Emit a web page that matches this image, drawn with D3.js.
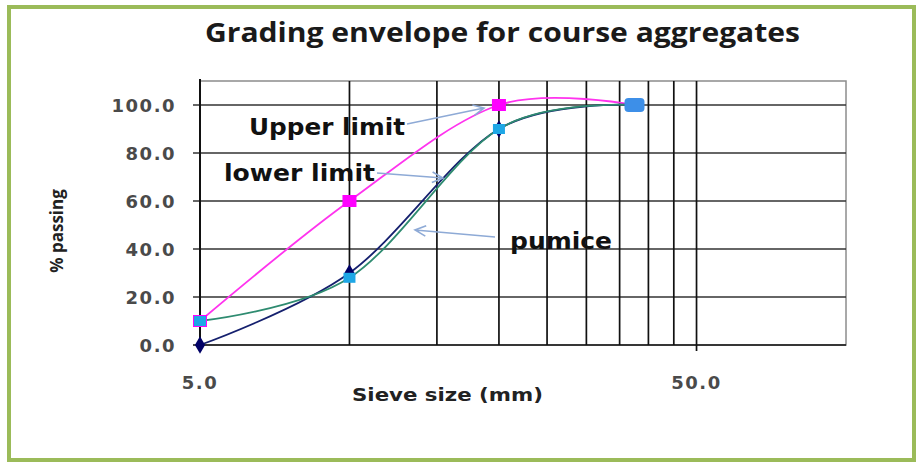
<!DOCTYPE html>
<html>
<head>
<meta charset="utf-8">
<script src="https://cdn.jsdelivr.net/npm/d3@7"></script>
<style>
  body { margin: 0; background: #fff; }
  svg { display: block; }
</style>
</head>
<body>
<div id="showBox"></div>
<script>
// data
const sieveSizes = [5, 10, 20, 37.5]
const upperLimit = [10, 60, 100, 100]
const lowerLimit = [0, 30, 90, 100]
const pumice = [10, 28, 90, 100]

const xGridValues = [10, 15, 20, 25, 30, 35, 40, 45, 50]
const xTickLabels = [5, 50]
const yTickValues = [0, 20, 40, 60, 80, 100]

const width = 918, height = 464
const plotLeft = 200, plotRight = 846, plotTop = 81, plotBottom = 345

const svg = d3.select("#showBox").append("svg")
    .attr("width", width)
    .attr("height", height)

const x = d3.scaleLog().domain([5, 100]).range([plotLeft, plotRight])
const y = d3.scaleLinear().domain([0, 110]).range([plotBottom, plotTop])

// green frame
svg.append("rect")
    .attr("x", 9).attr("y", 7)
    .attr("width", 905).attr("height", 453)
    .attr("fill", "none")
    .attr("stroke", "#9bbb59")
    .attr("stroke-width", 4)

svg.append("text")
    .attr("x", 205).attr("y", 42)
    .attr("font-family", "Open Sans")
    .attr("font-weight", "bold")
    .attr("font-size", 26)
    .attr("textLength", 595)
    .attr("lengthAdjust", "spacingAndGlyphs")
    .attr("fill", "#1a1a1a")
    .text("Grading envelope for course aggregates")

// plot area border (grey)
svg.append("rect")
    .attr("x", plotLeft).attr("y", plotTop)
    .attr("width", plotRight - plotLeft).attr("height", plotBottom - plotTop)
    .attr("fill", "none")
    .attr("stroke", "#8c8c8c")
    .attr("stroke-width", 1.5)

// horizontal grid
svg.append("g")
    .selectAll("line")
    .data(yTickValues)
    .join("line")
    .attr("x1", plotLeft - 7).attr("x2", plotRight)
    .attr("y1", d => y(d)).attr("y2", d => y(d))
    .attr("stroke", d => d === 0 ? "#111" : "#333")
    .attr("stroke-width", 1.7)

// vertical grid
svg.append("g")
    .selectAll("line")
    .data(xGridValues)
    .join("line")
    .attr("x1", d => x(d)).attr("x2", d => x(d))
    .attr("y1", plotTop).attr("y2", d => d === 50 ? plotBottom + 6 : plotBottom)
    .attr("stroke", "#111")
    .attr("stroke-width", 1.7)

// y axis line
svg.append("line")
    .attr("x1", plotLeft).attr("x2", plotLeft)
    .attr("y1", plotTop - 2).attr("y2", plotBottom)
    .attr("stroke", "#111")
    .attr("stroke-width", 2)

const tickFont = g => g
    .attr("font-family", "DejaVu Sans")
    .attr("font-weight", "bold")
    .attr("font-size", 18)
    .attr("letter-spacing", 1.5)
    .attr("fill", "#4a4a4a")

svg.append("g")
    .call(tickFont)
    .attr("text-anchor", "end")
    .selectAll("text")
    .data(yTickValues)
    .join("text")
    .attr("x", 176)
    .attr("y", d => y(d) + 7)
    .text(d => d3.format(".1f")(d))

svg.append("g")
    .call(tickFont)
    .attr("text-anchor", "middle")
    .selectAll("text")
    .data(xTickLabels)
    .join("text")
    .attr("x", d => x(d))
    .attr("y", 389)
    .text(d => d3.format(".1f")(d))

svg.append("text")
    .attr("x", 352).attr("y", 401)
    .attr("font-family", "DejaVu Sans")
    .attr("font-weight", "bold")
    .attr("font-size", 18)
    .attr("textLength", 191)
    .attr("lengthAdjust", "spacingAndGlyphs")
    .attr("fill", "#222")
    .text("Sieve size  (mm)")

svg.append("text")
    .attr("transform", "translate(63,231) rotate(-90)")
    .attr("text-anchor", "middle")
    .attr("font-family", "Open Sans")
    .attr("font-weight", "bold")
    .attr("font-size", 17)
    .attr("fill", "#222")
    .text("% passing")

// series
const line = d3.line()
    .x(d => x(d[0]))
    .y(d => y(d[1]))
    .curve(d3.curveCardinal)

const series = [
    {name: "upper", values: upperLimit, stroke: "#ff33ee", width: 1.8},
    {name: "lower", values: lowerLimit, stroke: "#15206e", width: 1.8},
    {name: "pumice", values: pumice, stroke: "#2e8b70", width: 1.8}
]

svg.append("g")
    .attr("fill", "none")
    .selectAll("path")
    .data(series)
    .join("path")
    .attr("stroke", d => d.stroke)
    .attr("stroke-width", d => d.width)
    .attr("d", d => line(sieveSizes.map((s, i) => [s, d.values[i]])))

// markers
const up = sieveSizes.map((s, i) => [s, upperLimit[i]])
const lo = sieveSizes.map((s, i) => [s, lowerLimit[i]])
const pu = sieveSizes.map((s, i) => [s, pumice[i]])

svg.append("g")
    .selectAll("rect")
    .data(up)
    .join("rect")
    .attr("x", d => x(d[0]) - 7).attr("y", d => y(d[1]) - 6)
    .attr("width", 14).attr("height", 12)
    .attr("fill", "#ff00ff")

svg.append("g")
    .selectAll("path")
    .data(lo.slice(0, 3))
    .join("path")
    .attr("transform", d => `translate(${x(d[0])},${y(d[1])})`)
    .attr("d", d3.symbol(d3.symbolDiamond, 90))
    .attr("fill", "#000066")

svg.append("g")
    .selectAll("rect")
    .data(pu)
    .join("rect")
    .attr("x", (d, i) => x(d[0]) - (i === 3 ? 10 : 6)).attr("y", (d, i) => y(d[1]) - (i === 3 ? 7 : 5))
    .attr("width", (d, i) => i === 3 ? 20 : 12).attr("height", (d, i) => i === 3 ? 14 : 10)
    .attr("rx", (d, i) => i === 3 ? 4 : 0)
    .attr("fill", (d, i) => i === 3 ? "#3d8fe8" : "#1ea7e6")

// annotations
const labels = svg.append("g")
    .attr("font-family", "DejaVu Sans")
    .attr("font-weight", "bold")
    .attr("font-size", 23)
    .attr("lengthAdjust", "spacingAndGlyphs")
    .attr("fill", "#111")

labels.append("text").attr("x", 249).attr("y", 135).attr("textLength", 156).attr("lengthAdjust", "spacingAndGlyphs").text("Upper limit")
labels.append("text").attr("x", 224).attr("y", 181).attr("textLength", 151).attr("lengthAdjust", "spacingAndGlyphs").text("lower limit")
labels.append("text").attr("x", 510).attr("y", 249).attr("textLength", 102).attr("lengthAdjust", "spacingAndGlyphs").text("pumice")

const arrows = [
    [[407, 124], [484, 108]],
    [[377, 173], [443, 178]],
    [[495, 237], [415, 230]]
]

const ag = svg.append("g")
    .attr("stroke", "#8eaad6")
    .attr("stroke-width", 1.6)
    .attr("fill", "none")

arrows.forEach(([a, b]) => {
    const ang = Math.atan2(b[1] - a[1], b[0] - a[0])
    const l = 12, spread = 0.45
    ag.append("path")
        .attr("d", `M${a[0]},${a[1]}L${b[0]},${b[1]}` +
            `M${b[0] - l * Math.cos(ang - spread)},${b[1] - l * Math.sin(ang - spread)}L${b[0]},${b[1]}` +
            `L${b[0] - l * Math.cos(ang + spread)},${b[1] - l * Math.sin(ang + spread)}`)
})
</script>
</body>
</html>
